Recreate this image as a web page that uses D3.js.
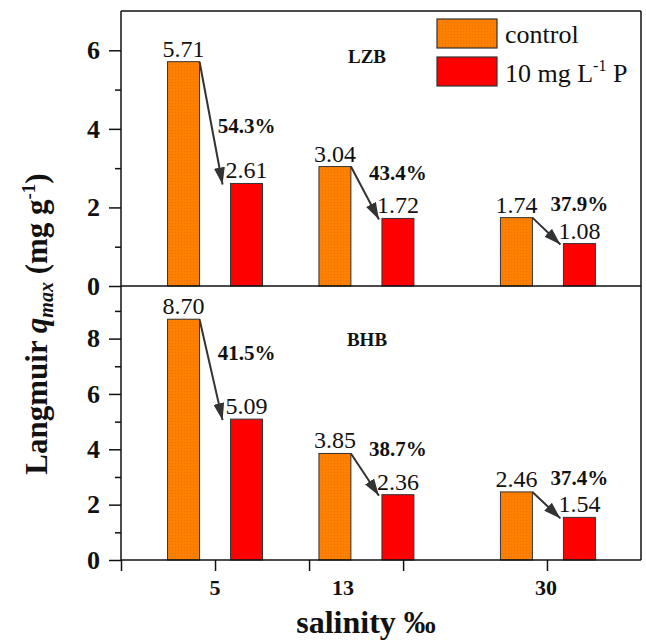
<!DOCTYPE html>
<html>
<head>
<meta charset="utf-8">
<script src="https://cdn.jsdelivr.net/npm/d3@7"></script>
<style>
  body { margin: 0; background: #fff; }
  svg { display: block; }
  svg text { font-family: "Liberation Serif", "DejaVu Serif", serif; }
</style>
</head>
<body>
<svg id="chart" width="646" height="640"></svg>
<script>
// data
const salinity = ['5', '13', '30'];
const lzbControl = [5.71, 3.04, 1.74];
const lzbP = [2.61, 1.72, 1.08];
const lzbDrop = ['54.3%', '43.4%', '37.9%'];
const bhbControl = [8.70, 3.85, 2.46];
const bhbP = [5.09, 2.36, 1.54];
const bhbDrop = ['41.5%', '38.7%', '37.4%'];
const topTicks = [0, 2, 4, 6];
const topMinor = [1, 3, 5];
const botTicks = [0, 2, 4, 6, 8];
const botMinor = [1, 3, 5, 7, 9];

// layout (the original axis is irregular, so slots are in tick units)
const groupSlot = [1, 2.61, 4.54];
const labelSlot = [1, 2.36, 4.52];
const xTickSlot = [0, 1, 2, 3, 4.53];
const lzbDropY = [3.89, 2.70, 1.92];
const bhbDropY = [7.22, 3.75, 2.72];

const serif = '"Liberation Serif", "DejaVu Serif", serif';
const orange = '#ff8000', red = '#ff0000', ink = '#111';
const svg = d3.select('#chart').attr('font-family', serif);

const defs = svg.append('defs');
defs.append('pattern').attr('id', 'dots').attr('width', 3).attr('height', 3)
    .attr('patternUnits', 'userSpaceOnUse')
    .call(p => {
        p.append('rect').attr('width', 3).attr('height', 3).attr('fill', orange);
        p.append('rect').attr('x', 1).attr('y', 1).attr('width', 1).attr('height', 1).attr('fill', '#e87400');
    });
defs.append('marker').attr('id', 'head')
    .attr('markerUnits', 'userSpaceOnUse')
    .attr('markerWidth', 18).attr('markerHeight', 11)
    .attr('refX', 17).attr('refY', 5.5).attr('orient', 'auto')
    .append('path').attr('d', 'M0,0L17,5.5L0,11Z').attr('fill', '#333');

const x = d3.scaleLinear().domain([0, 5.53]).range([121, 641]);
const barW = x(0.34) - x(0);
const off = 0.335;

const panels = [
    {name: 'LZB', ctrl: lzbControl, p: lzbP, drop: lzbDrop, dropY: lzbDropY,
     y: d3.scaleLinear().domain([0, 7]).range([286, 11]), ticks: topTicks, minor: topMinor},
    {name: 'BHB', ctrl: bhbControl, p: bhbP, drop: bhbDrop, dropY: bhbDropY,
     y: d3.scaleLinear().domain([0, 9.9]).range([560, 286]), ticks: botTicks, minor: botMinor}
];

panels.forEach((pn, k) => {
    const g = svg.append('g');
    const y = pn.y;
    const [y0, y1] = y.range();

    // bars
    const rows = salinity.map((s, i) => ({i, c: pn.ctrl[i], p: pn.p[i], drop: pn.drop[i], dy: pn.dropY[i]}));
    g.selectAll('rect.ctrl').data(rows).join('rect').attr('class', 'ctrl')
        .attr('x', d => x(groupSlot[d.i] - off) - barW / 2)
        .attr('y', d => y(d.c)).attr('width', barW).attr('height', d => y0 - y(d.c))
        .attr('fill', 'url(#dots)').attr('stroke', '#333').attr('stroke-width', 1);
    g.selectAll('rect.p').data(rows).join('rect').attr('class', 'p')
        .attr('x', d => x(groupSlot[d.i] + off) - barW / 2)
        .attr('y', d => y(d.p)).attr('width', barW).attr('height', d => y0 - y(d.p))
        .attr('fill', red).attr('stroke', '#333').attr('stroke-width', 1);

    // value labels
    g.selectAll('text.vc').data(rows).join('text').attr('class', 'vc')
        .attr('x', d => x(groupSlot[d.i] - off)).attr('y', d => y(d.c) - 5)
        .attr('text-anchor', 'middle').attr('font-size', 24).attr('fill', ink)
        .text(d => d.c.toFixed(2));
    g.selectAll('text.vp').data(rows).join('text').attr('class', 'vp')
        .attr('x', d => x(groupSlot[d.i] + off)).attr('y', d => y(d.p) - 5)
        .attr('text-anchor', 'middle').attr('font-size', 24).attr('fill', ink)
        .text(d => d.p.toFixed(2));

    // arrows
    g.selectAll('line.arr').data(rows).join('line').attr('class', 'arr')
        .attr('x1', d => x(groupSlot[d.i] - off) + barW / 2).attr('y1', d => y(d.c))
        .attr('x2', d => x(groupSlot[d.i] + off) - barW / 2 - (d.i ? 3 : 8)).attr('y2', d => y(d.p) + 1)
        .attr('stroke', '#333').attr('stroke-width', 2).attr('marker-end', 'url(#head)');
    g.selectAll('text.drop').data(rows).join('text').attr('class', 'drop')
        .attr('x', d => x(groupSlot[d.i] + off)).attr('y', d => y(d.dy))
        .attr('text-anchor', 'middle').attr('font-size', 21).attr('font-weight', 'bold').attr('fill', ink)
        .text(d => d.drop);

    // panel name
    g.append('text').attr('x', 367).attr('y', y1 + (k ? 60 : 52))
        .attr('text-anchor', 'middle').attr('font-size', 19).attr('font-weight', 'bold').attr('fill', ink)
        .text(pn.name);

    // y axis
    const ax = g.append('g').attr('transform', 'translate(121,0)')
        .call(d3.axisLeft(y).tickValues(pn.ticks).tickFormat(d3.format('d'))
            .tickSize(12).tickSizeOuter(0).tickPadding(9));
    ax.attr('font-family', serif);
    ax.select('.domain').remove();
    ax.selectAll('line').attr('stroke', ink).attr('stroke-width', 1.5);
    ax.selectAll('text').attr('font-size', 26).attr('font-weight', 'bold').attr('fill', ink);
    g.append('g').attr('transform', 'translate(121,0)')
        .call(d3.axisLeft(y).tickValues(pn.minor).tickSize(6).tickFormat(''))
        .call(a => a.select('.domain').remove())
        .selectAll('line').attr('stroke', ink).attr('stroke-width', 1.5);

    // frame
    g.append('line').attr('x1', 121).attr('x2', 121).attr('y1', y1).attr('y2', y0)
        .attr('stroke', ink).attr('stroke-width', 1.5);
    g.append('line').attr('x1', 641).attr('x2', 641).attr('y1', y1).attr('y2', y0)
        .attr('stroke', ink).attr('stroke-width', 1.5);
    g.append('line').attr('x1', 121).attr('x2', 641).attr('y1', y0).attr('y2', y0)
        .attr('stroke', ink).attr('stroke-width', 1.5);
    if (k === 0) {
        g.append('line').attr('x1', 121).attr('x2', 641).attr('y1', y1).attr('y2', y1)
            .attr('stroke', ink).attr('stroke-width', 1.5);
    }
});

// x axis
const xa = svg.append('g').attr('transform', 'translate(0,560)')
    .call(d3.axisBottom(x).tickValues(xTickSlot).tickSize(11).tickFormat(''));
xa.select('.domain').remove();
xa.selectAll('line').attr('stroke', ink).attr('stroke-width', 1.5);
svg.append('g').selectAll('text').data(salinity).join('text')
    .attr('x', (d, i) => x(labelSlot[i])).attr('y', 595)
    .attr('text-anchor', 'middle').attr('font-size', 22).attr('font-weight', 'bold').attr('fill', ink)
    .text(d => d);

// axis titles
svg.append('text').attr('x', 366).attr('y', 633).attr('text-anchor', 'middle')
    .attr('font-size', 32).attr('font-weight', 'bold').attr('fill', ink).text('salinity ‰');

const yl = svg.append('text').attr('transform', 'translate(47,324) rotate(-90)')
    .attr('text-anchor', 'middle').attr('font-size', 31).attr('font-weight', 'bold').attr('fill', ink);
yl.append('tspan').text('Langmuir ');
yl.append('tspan').attr('font-style', 'italic').text('q');
yl.append('tspan').attr('font-style', 'italic').attr('font-size', 20).attr('dy', 6).text('max');
yl.append('tspan').attr('dy', -6).text(' (mg g');
yl.append('tspan').attr('font-size', 19).attr('dy', -12).text('-1');
yl.append('tspan').attr('dy', 12).text(')');

// legend
const legend = [{label: 'control', fill: 'url(#dots)'}, {label: '10 mg L', fill: red}];
const lg = svg.append('g');
lg.selectAll('rect').data(legend).join('rect')
    .attr('x', 437).attr('y', (d, i) => 19 + i * 38).attr('width', 60).attr('height', 29)
    .attr('fill', d => d.fill).attr('stroke', '#333').attr('stroke-width', 1.2);
lg.selectAll('text').data(legend).join('text')
    .attr('x', 505).attr('y', (d, i) => 43 + i * 39)
    .attr('font-size', 26).attr('fill', ink)
    .each(function (d, i) {
        const t = d3.select(this);
        t.append('tspan').text(d.label);
        if (i === 1) {
            t.append('tspan').attr('font-size', 16).attr('dy', -11).text('-1');
            t.append('tspan').attr('dy', 11).text(' P');
        }
    });
</script>
</body>
</html>
